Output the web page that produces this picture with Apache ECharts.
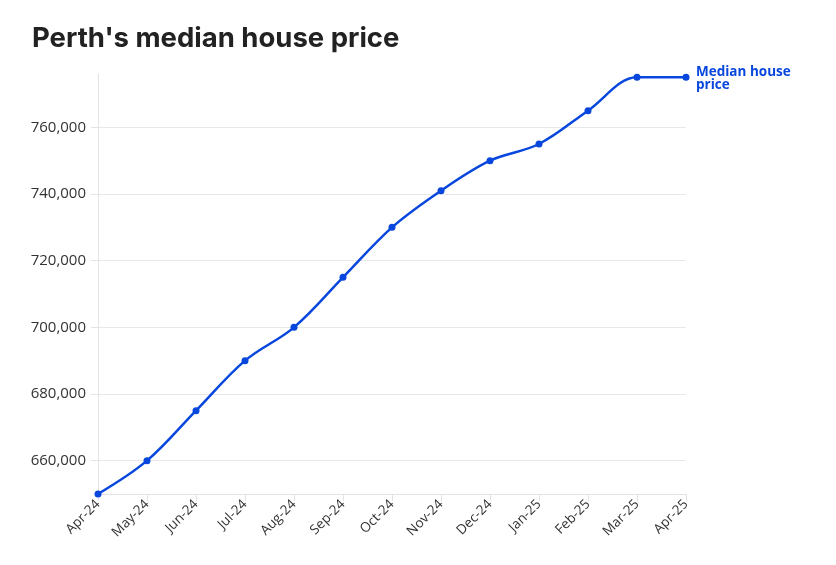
<!DOCTYPE html>
<html><head><meta charset="utf-8">
<script src="https://cdn.jsdelivr.net/npm/echarts@6/dist/echarts.min.js"></script>
<style>html,body{margin:0;padding:0;background:#fff}#c{width:836px;height:565px}</style>
</head><body><div id="c"></div>
<script>
const categories = ['Apr-24','May-24','Jun-24','Jul-24','Aug-24','Sep-24','Oct-24','Nov-24','Dec-24','Jan-25','Feb-25','Mar-25','Apr-25'];
const medianPrice = [650000,660000,675000,690000,700000,715000,730000,741000,750000,755000,765000,775000,775000];
const yTicks = [660000,680000,700000,720000,740000,760000];
const seriesName = 'Median house\nprice';
const titleText = "Perth's median house price";

const chart = echarts.init(document.getElementById('c'));
chart.setOption({
  animation: false,
  title: {text: titleText, left: 27, top: 20, textStyle: {fontFamily: 'Inter', fontWeight: 700, fontSize: 27.5, color: '#222'}},
  grid: {left: 98, right: 150, top: 74, bottom: 71},
  xAxis: {
    type: 'category', data: categories, boundaryGap: false,
    axisLine: {lineStyle: {color: '#e3e3e3'}},
    axisTick: {show: true, length: 7, lineStyle: {color: '#e3e3e3'}},
    axisLabel: {rotate: 45, fontFamily: 'Open Sans', fontSize: 13.5, color: '#333', margin: 8, interval: 0}
  },
  yAxis: {
    type: 'value', min: 650000, max: 776000,
    axisLine: {show: true, lineStyle: {color: '#e3e3e3'}},
    axisTick: {show: true, length: 7, customValues: yTicks, lineStyle: {color: '#e3e3e3'}},
    splitLine: {lineStyle: {color: '#e8e8e8'}},
    axisLabel: {fontFamily: 'Open Sans', fontSize: 15, color: '#333', margin: 12, customValues: yTicks,
      formatter: v => v.toLocaleString('en-US')},
  },
  series: [{
    name: seriesName, type: 'line', data: medianPrice, smooth: 0.35,
    symbol: 'circle', symbolSize: 7,
    lineStyle: {color: '#0847dd', width: 2.5},
    itemStyle: {color: '#0847dd'},
    endLabel: {show: true, formatter: '{a}', color: '#0847dd', fontFamily: 'Open Sans', fontWeight: 700, fontSize: 13.5, lineHeight: 13, distance: 10, align: 'left', verticalAlign: 'top', offset: [0, -12]}
  }]
});
</script></body></html>
